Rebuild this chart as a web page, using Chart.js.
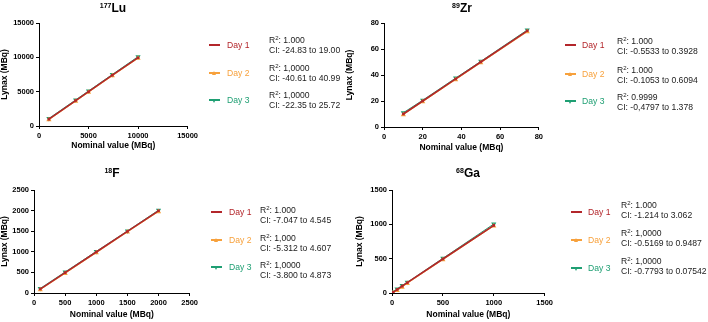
<!DOCTYPE html>
<html>
<head>
<meta charset="utf-8">
<script src="https://cdn.jsdelivr.net/npm/chart.js@4.4.1/dist/chart.umd.min.js"></script>
<style>
  body { margin: 0; background: #fff; font-family: 'Liberation Sans', Arial, sans-serif; }
  #wrap { position: relative; width: 708px; height: 322px; overflow: hidden; }
  canvas { position: absolute; }
  .ttl { position: absolute; font-weight: bold; font-size: 12px; transform: translate(-50%, -50%); white-space: nowrap; }
  .ttl sup { font-size: 7px; vertical-align: 4px; }
  .lg { position: absolute; font-size: 8.6px; white-space: nowrap; line-height: 10px; }
  .lg sup { font-size: 6px; vertical-align: 3px; line-height: 0; }
  .ln { position: absolute; width: 11px; height: 1.5px; }
  .mk { position: absolute; width: 0; height: 0; border-left: 2.5px solid transparent; border-right: 2.5px solid transparent; }
</style>
</head>
<body>
<div id="wrap"></div>
<script>
// Data
const dayLabels = ['Day 1', 'Day 2', 'Day 3'];
const dayColors = ['#b3262b', '#f7a13c', '#1f9f73'];

// 177Lu
const luNominal = [1000, 3700, 5000, 7400, 10000];
const luDay1 = [1000, 3700, 5000, 7400, 9950];
const luDay2 = [900, 3600, 4900, 7300, 9850];
const luDay3 = [1100, 3800, 5100, 7500, 10100];
const luR2 = ['1.000', '1,0000', '1,0000'];
const luCI = ['-24.83 to 19.00', '-40.61 to 40.99', '-22.35 to 25.72'];

// 89Zr
const zrNominal = [10, 20, 37, 50, 74];
const zrDay1 = [10, 20, 37, 50, 74];
const zrDay2 = [9.5, 19.4, 36.4, 49.4, 73.2];
const zrDay3 = [11, 20.6, 37.6, 50.5, 74.6];
const zrR2 = ['1.000', '1.000', '0.9999'];
const zrCI = ['-0.5533 to 0.3928', '-0.1053 to 0.6094', '-0,4797 to 1.378'];

// 18F
const fNominal = [100, 500, 1000, 1500, 2000];
const fDay1 = [95, 495, 995, 1495, 1995];
const fDay2 = [80, 475, 975, 1480, 1975];
const fDay3 = [110, 510, 1010, 1505, 2010];
const fR2 = ['1.000', '1,000', '1,0000'];
const fCI = ['-7.047 to 4.545', '-5.312 to 4.607', '-3.800 to 4.873'];

// 68Ga
const gaNominal = [10, 50, 100, 150, 500, 1000];
const gaDay1 = [10, 50, 100, 150, 495, 985];
const gaDay2 = [5, 35, 85, 140, 485, 975];
const gaDay3 = [15, 60, 110, 155, 505, 1005];
const gaR2 = ['1.000', '1,0000', '1,0000'];
const gaCI = ['-1.214 to 3.062', '-0.5169 to 0.9487', '-0.7793 to 0.07542'];

const wrap = document.getElementById('wrap');

function toPoints(xs, ys) {
  return xs.map((x, i) => ({ x: x, y: ys[i] }));
}

function axis(max, step, title, fixed, isX, titlePad) {
  return {
    type: 'linear',
    min: 0,
    max: max,
    ticks: { stepSize: step, color: '#000', padding: 2, callback: (v) => String(v),
             font: { family: 'Liberation Sans', size: 7.5, weight: 'bold' } },
    grid: { drawOnChartArea: false, drawTicks: true, tickLength: 3, color: '#000', lineWidth: 1 },
    border: { color: '#000', width: 1 },
    title: { display: true, text: title, color: '#000', padding: isX ? { top: 2, bottom: titlePad } : { top: 0, bottom: 0 },
             font: { family: 'Liberation Sans', size: 8.5, weight: 'bold' } },
    afterFit: (scale) => { if (isX) scale.height = fixed; else scale.width = fixed; },
  };
}

function panel(cfg) {
  // Canvas with the plot itself
  const canvas = document.createElement('canvas');
  canvas.style.left = cfg.left + 'px';
  canvas.style.top = cfg.top + 'px';
  canvas.style.width = cfg.width + 'px';
  canvas.style.height = cfg.height + 'px';
  canvas.width = cfg.width;
  canvas.height = cfg.height;
  wrap.appendChild(canvas);

  const series = [cfg.day1, cfg.day2, cfg.day3];
  const styles = ['rect', 'triangle', 'triangle'];
  const rotations = [0, 0, 180];

  new Chart(canvas, {
    type: 'scatter',
    data: {
      datasets: series.map((ys, i) => ({
        label: dayLabels[i],
        data: toPoints(cfg.nominal, ys),
        showLine: true,
        borderColor: dayColors[i],
        backgroundColor: dayColors[i],
        borderWidth: i === 0 ? 1.6 : 1,
        pointStyle: styles[i],
        rotation: rotations[i],
        pointRadius: i === 0 ? 1.8 : 3,
        pointBorderWidth: 0,
        order: i,
      })),
    },
    options: {
      responsive: false,
      animation: false,
      layout: { padding: { top: cfg.padTop, right: cfg.padRight, left: 0, bottom: 0 } },
      scales: {
        x: axis(cfg.max, cfg.step, 'Nominal value (MBq)', cfg.xHeight, true, cfg.titlePad),
        y: axis(cfg.max, cfg.step, 'Lynax (MBq)', cfg.yWidth, false, 0),
      },
      plugins: { legend: { display: false }, tooltip: { enabled: false } },
    },
  });

  // Panel title
  const ttl = document.createElement('div');
  ttl.className = 'ttl';
  ttl.style.left = cfg.titleX + 'px';
  ttl.style.top = cfg.titleY + 'px';
  ttl.innerHTML = '<sup>' + cfg.mass + '</sup>' + cfg.element;
  wrap.appendChild(ttl);

  // Legend with fit statistics
  cfg.rows.forEach((y, i) => {
    const ln = document.createElement('div');
    ln.className = 'ln';
    ln.style.left = cfg.lineX + 'px';
    ln.style.top = (y - 0.75) + 'px';
    ln.style.background = dayColors[i];
    wrap.appendChild(ln);

    if (i > 0) {
      const mk = document.createElement('div');
      mk.className = 'mk';
      mk.style.left = (cfg.lineX + 3) + 'px';
      if (i === 1) { mk.style.borderBottom = '4px solid ' + dayColors[i]; mk.style.top = (y - 2.5) + 'px'; }
      else { mk.style.borderTop = '4px solid ' + dayColors[i]; mk.style.top = (y - 1.5) + 'px'; }
      wrap.appendChild(mk);
    }

    const day = document.createElement('div');
    day.className = 'lg';
    day.style.left = cfg.dayX + 'px';
    day.style.top = (y - 5) + 'px';
    day.style.color = dayColors[i];
    day.textContent = dayLabels[i];
    wrap.appendChild(day);

    const stat = document.createElement('div');
    stat.className = 'lg';
    stat.style.left = cfg.statX + 'px';
    stat.style.top = (y + cfg.statDy - 10) + 'px';
    stat.style.color = '#222';
    stat.innerHTML = 'R<sup>2</sup>: ' + cfg.r2[i] + '<br>CI: ' + cfg.ci[i];
    wrap.appendChild(stat);
  });
}

panel({ nominal: luNominal, day1: luDay1, day2: luDay2, day3: luDay3, r2: luR2, ci: luCI,
  mass: '177', element: 'Lu', max: 15000, step: 5000,
  left: 0, top: 13, width: 200, height: 147, padTop: 10, padRight: 7, yWidth: 39, xHeight: 34, titlePad: 9,
  titleX: 113, titleY: 8, lineX: 209, dayX: 227, statX: 269, statDy: 0, rows: [45, 73, 100] });

panel({ nominal: zrNominal, day1: zrDay1, day2: zrDay2, day3: zrDay3, r2: zrR2, ci: zrCI,
  mass: '89', element: 'Zr', max: 80, step: 20,
  left: 345, top: 13, width: 200, height: 147, padTop: 10, padRight: 5, yWidth: 39, xHeight: 33, titlePad: 7,
  titleX: 462, titleY: 8, lineX: 565, dayX: 582, statX: 617, statDy: 1, rows: [45, 74, 101] });

panel({ nominal: fNominal, day1: fDay1, day2: fDay2, day3: fDay3, r2: fR2, ci: fCI,
  mass: '18', element: 'F', max: 2500, step: 500,
  left: 0, top: 178, width: 200, height: 144, padTop: 12, padRight: 9, yWidth: 34, xHeight: 29, titlePad: 2,
  titleX: 112, titleY: 173, lineX: 211, dayX: 229, statX: 260, statDy: 3, rows: [212, 240, 267] });

panel({ nominal: gaNominal, day1: gaDay1, day2: gaDay2, day3: gaDay3, r2: gaR2, ci: gaCI,
  mass: '68', element: 'Ga', max: 1500, step: 500,
  left: 355, top: 178, width: 200, height: 144, padTop: 12, padRight: 5, yWidth: 37, xHeight: 29, titlePad: 2,
  titleX: 468, titleY: 173, lineX: 571, dayX: 588, statX: 621, statDy: -2, rows: [212, 240, 268] });
</script>
</body>
</html>
